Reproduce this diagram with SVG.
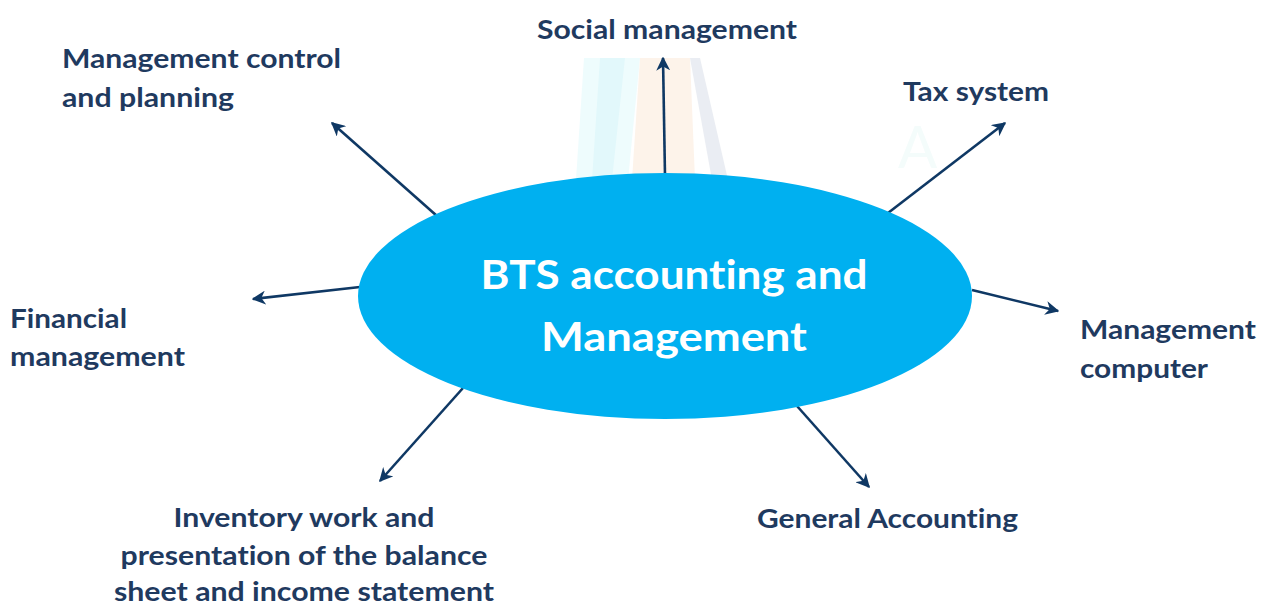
<svg xmlns="http://www.w3.org/2000/svg" width="1265" height="608" viewBox="0 0 1265 608">
<defs>
<style>
.lbl{font-family:Lato,"Open Sans","Liberation Sans",sans-serif;font-weight:bold;font-size:27px;fill:#1F3A5F;font-variant-ligatures:none}
.ctr{font-family:Lato,"Open Sans","Liberation Sans",sans-serif;font-weight:bold;font-size:41px;fill:#FFFFFF;font-variant-ligatures:none}
.conn{stroke:#0F3864;stroke-width:2.6;fill:none;marker-end:url(#ah)}
</style>
<marker id="ah" viewBox="0 0 10 10" refX="9" refY="5" markerWidth="14" markerHeight="14" markerUnits="userSpaceOnUse" orient="auto">
<path d="M0,0 L10,5 L0,10 L3,5 Z" fill="#0F3864"/>
</marker>
</defs>
<rect width="1265" height="608" fill="#FFFFFF"/>
<g id="watermark" opacity="0.7">
<polygon points="584,58 640,58 628,180 576,180" fill="#E8FBFD"/>
<polygon points="600,58 625,58 612,180 592,180" fill="#D6F6FA"/>
<polygon points="640,58 690,58 695,180 632,180" fill="#FDEFE2"/>
<polygon points="690,58 700,58 728,180 712,180" fill="#E2E6EE"/>
<text x="898" y="168" font-family="Lato,sans-serif" font-size="58" fill="#F0FBFA">A</text>
</g>
<g id="connectors">
<path class="conn" d="M665,176 L663,58"/>
<path class="conn" d="M437,216 L332,123"/>
<path class="conn" d="M888,213 L1005,123"/>
<path class="conn" d="M360,287 L253,299"/>
<path class="conn" d="M972,290 L1058,311"/>
<path class="conn" d="M463,388 L380,481"/>
<path class="conn" d="M797,406 L869,487"/>
</g>
<g id="center">
<ellipse cx="665" cy="296" rx="307" ry="123" fill="#00B0F0"/>
<text class="ctr" x="674" y="289" text-anchor="middle" textLength="387" lengthAdjust="spacingAndGlyphs">BTS accounting and</text>
<text class="ctr" x="674" y="351" text-anchor="middle" textLength="266" lengthAdjust="spacingAndGlyphs">Management</text>
</g>
<g id="social"><text class="lbl" x="537" y="39" textLength="260" lengthAdjust="spacingAndGlyphs">Social management</text></g>
<g id="control">
<text class="lbl" x="62" y="68" textLength="279" lengthAdjust="spacingAndGlyphs">Management control</text>
<text class="lbl" x="62" y="107" textLength="172" lengthAdjust="spacingAndGlyphs">and planning</text>
</g>
<g id="tax"><text class="lbl" x="903" y="101" textLength="146" lengthAdjust="spacingAndGlyphs">Tax system</text></g>
<g id="financial">
<text class="lbl" x="10" y="328" textLength="117" lengthAdjust="spacingAndGlyphs">Financial</text>
<text class="lbl" x="10" y="366" textLength="175" lengthAdjust="spacingAndGlyphs">management</text>
</g>
<g id="computer">
<text class="lbl" x="1080" y="339" textLength="176" lengthAdjust="spacingAndGlyphs">Management</text>
<text class="lbl" x="1080" y="378" textLength="128" lengthAdjust="spacingAndGlyphs">computer</text>
</g>
<g id="general"><text class="lbl" x="757" y="528" textLength="261" lengthAdjust="spacingAndGlyphs">General Accounting</text></g>
<g id="inventory">
<text class="lbl" x="304" y="527" text-anchor="middle" textLength="261" lengthAdjust="spacingAndGlyphs">Inventory work and</text>
<text class="lbl" x="304" y="565" text-anchor="middle" textLength="367" lengthAdjust="spacingAndGlyphs">presentation of the balance</text>
<text class="lbl" x="304" y="601" text-anchor="middle" textLength="380" lengthAdjust="spacingAndGlyphs">sheet and income statement</text>
</g>
</svg>
